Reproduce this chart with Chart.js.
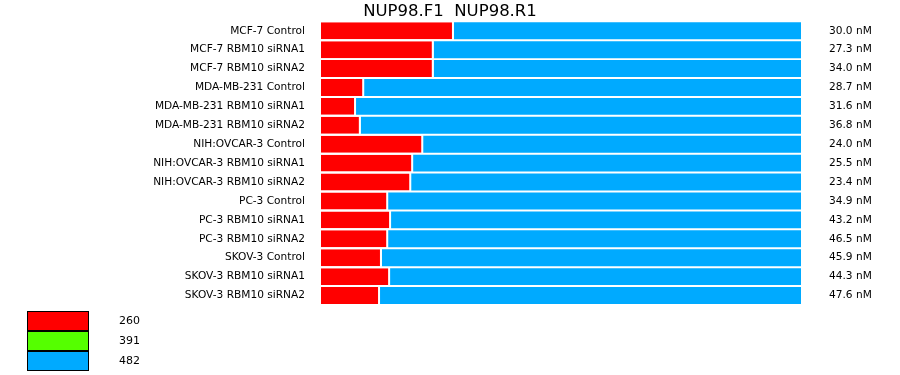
<!DOCTYPE html>
<html>
<head>
<meta charset="utf-8">
<script src="https://cdn.jsdelivr.net/npm/chart.js@4/dist/chart.umd.min.js"></script>
<style>
  html, body { margin: 0; padding: 0; background: #fff; }
  canvas { display: block; }
</style>
</head>
<body>
<canvas id="chart" width="900" height="375"></canvas>
<script>
const samples = [
    'MCF-7 Control', 'MCF-7 RBM10 siRNA1', 'MCF-7 RBM10 siRNA2',
    'MDA-MB-231 Control', 'MDA-MB-231 RBM10 siRNA1', 'MDA-MB-231 RBM10 siRNA2',
    'NIH:OVCAR-3 Control', 'NIH:OVCAR-3 RBM10 siRNA1', 'NIH:OVCAR-3 RBM10 siRNA2',
    'PC-3 Control', 'PC-3 RBM10 siRNA1', 'PC-3 RBM10 siRNA2',
    'SKOV-3 Control', 'SKOV-3 RBM10 siRNA1', 'SKOV-3 RBM10 siRNA2'
];
const concLabels = [
    '30.0 nM', '27.3 nM', '34.0 nM', '28.7 nM', '31.6 nM', '36.8 nM', '24.0 nM', '25.5 nM',
    '23.4 nM', '34.9 nM', '43.2 nM', '46.5 nM', '45.9 nM', '44.3 nM', '47.6 nM'
];
// share of each product size (%)
const share260 = [27.7, 23.5, 23.5, 9.0, 7.3, 8.3, 21.3, 19.2, 18.8, 14.0, 14.6, 14.0, 12.7, 14.4, 12.3];
const share482 = [72.3, 76.5, 76.5, 91.0, 92.7, 91.7, 78.7, 80.8, 81.2, 86.0, 85.4, 86.0, 87.3, 85.6, 87.7];

const legendLabels = ['260', '391', '482'];
const legendColors = ['#ff0000', '#55ff00', '#00aaff'];

Chart.defaults.font.family = "'DejaVu Sans', sans-serif";
Chart.defaults.color = '#000';

// size legend in the bottom-left corner
const boxLegend = {
    id: 'boxLegend',
    afterDraw(chart) {
        const ctx = chart.ctx;
        ctx.save();
        ctx.font = "11px 'DejaVu Sans', sans-serif";
        ctx.textBaseline = 'middle';
        legendLabels.forEach((label, i) => {
            const y = 311 + i * 20;
            ctx.fillStyle = legendColors[i];
            ctx.fillRect(27, y, 62, 20);
            ctx.strokeStyle = '#000';
            ctx.lineWidth = 1;
            ctx.strokeRect(27.5, y + 0.5, 61, 19);
            ctx.fillStyle = '#000';
            ctx.fillText(label, 119, y + 10);
        });
        ctx.restore();
    }
};

const data = {
    labels: samples,
    datasets: [
        {
            label: legendLabels[0],
            data: share260,
            backgroundColor: legendColors[0],
            borderColor: '#fff',
            borderWidth: { top: 0, right: 2, bottom: 0, left: 0 },
            borderSkipped: false
        },
        {
            label: legendLabels[2],
            data: share482,
            backgroundColor: legendColors[2],
            borderWidth: 0
        }
    ]
};

const config = {
    type: 'bar',
    data,
    options: {
        indexAxis: 'y',
        responsive: false,
        animation: false,
        datasets: {
            bar: { categoryPercentage: 1, barPercentage: 0.895 }
        },
        layout: { padding: { top: 0, bottom: 70, left: 0, right: 0 } },
        scales: {
            x: { display: false, stacked: true, min: 0, max: 100 },
            y: {
                stacked: true,
                grid: { display: false, drawTicks: true, tickLength: 16 },
                border: { display: false },
                ticks: { padding: 0, font: { size: 10.6 }, color: '#000' },
                afterFit(scale) { scale.width = 321; }
            },
            y2: {
                type: 'category',
                labels: concLabels,
                position: 'right',
                offset: true,
                grid: { display: false, drawTicks: true, tickLength: 28, offset: true },
                border: { display: false },
                ticks: { padding: 0, font: { size: 10.6 }, color: '#000' },
                afterFit(scale) { scale.width = 99; }
            }
        },
        plugins: {
            legend: { display: false },
            tooltip: { enabled: false },
            title: {
                display: true,
                text: 'NUP98.F1  NUP98.R1',
                color: '#000',
                font: { size: 16.5, weight: 'normal' },
                padding: { top: 1.5, bottom: 0 }
            }
        }
    },
    plugins: [boxLegend]
};

const chart = new Chart(document.getElementById('chart'), config);
</script>
</body>
</html>
